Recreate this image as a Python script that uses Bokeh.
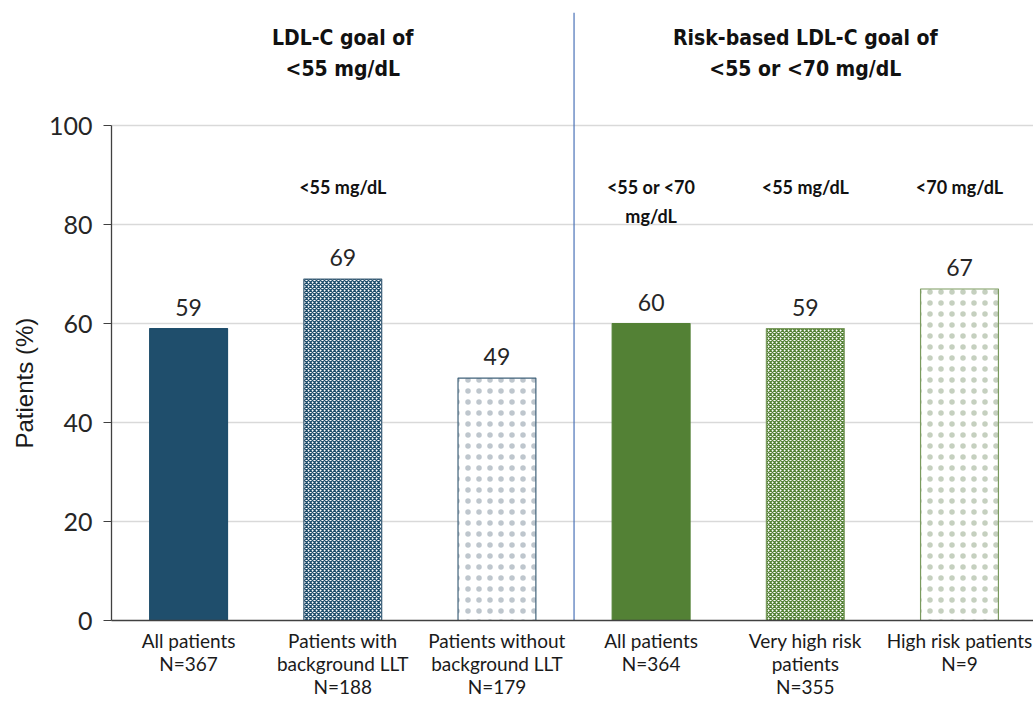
from bokeh.plotting import figure
from bokeh.models import ColumnDataSource, FixedTicker, Range1d, Title
from bokeh.core.properties import value
from bokeh.embed import file_html
from bokeh.resources import INLINE

# Data
group_labels = [
    "All patients\nN=367",
    "Patients with\nbackground LLT\nN=188",
    "Patients without\nbackground LLT\nN=179",
    "All patients\nN=364",
    "Very high risk\npatients\nN=355",
    "High risk patients\nN=9",
]
percent_at_goal = [59, 69, 49, 60, 59, 67]
goal_labels = ["", "<55 mg/dL", "", "<55 or <70\nmg/dL", "<55 mg/dL", "<70 mg/dL"]
panel_titles = ["LDL-C goal of\n<55 mg/dL", "Risk-based LDL-C goal of\n<55 or <70 mg/dL"]
y_ticks = [0, 20, 40, 60, 80, 100]

BLUE = "#1F4E6C"
BLUE_EDGE = "#40627A"
GREEN = "#538135"
GREEN_EDGE = "#7A9A5E"

centers = [i + 0.5 for i in range(len(group_labels))]

p = figure(
    width=1033, height=705,
    x_range=Range1d(0, 5.98), y_range=Range1d(0, 125.3),
    output_backend="svg", toolbar_location=None,
    min_border_left=111, min_border_right=0, min_border_top=0, min_border_bottom=85,
)
p.outline_line_color = None
p.background_fill_color = "white"

# bar styles: solid, crosshatch, dotted for each panel
styles = [
    dict(fill_color=BLUE, line_color=BLUE, hatch_pattern=None),
    dict(fill_color="white", line_color=BLUE_EDGE, hatch_pattern="diagonal_cross", hatch_color=BLUE, hatch_scale=4, hatch_weight=1.3),
    dict(fill_color="white", line_color=BLUE_EDGE, hatch_pattern="dot", hatch_color="#6F8090", hatch_alpha=0.45, hatch_scale=11, hatch_weight=0.3),
    dict(fill_color=GREEN, line_color=GREEN, hatch_pattern=None),
    dict(fill_color="white", line_color=GREEN_EDGE, hatch_pattern="diagonal_cross", hatch_color=GREEN, hatch_scale=4, hatch_weight=1.3),
    dict(fill_color="white", line_color=GREEN_EDGE, hatch_pattern="dot", hatch_color="#7E9670", hatch_alpha=0.45, hatch_scale=11, hatch_weight=0.3),
]
for x, v, st in zip(centers, percent_at_goal, styles):
    st = dict(st)
    hp = st.pop("hatch_pattern")
    kw = dict(x=[x], top=[v], bottom=0, width=0.505, line_width=1.2, **st)
    if hp:
        kw["hatch_pattern"] = hp
    p.vbar(**kw)

# value labels above bars
val_src = ColumnDataSource(dict(x=centers, y=percent_at_goal, t=[str(v) for v in percent_at_goal]))
p.text(x="x", y="y", text="t", source=val_src, text_align="center", text_baseline="bottom",
       y_offset=-13, text_font=value("Lato"), text_font_size="23px", text_color="#262626")

# divider between the two panels
p.segment(x0=[3.0], y0=[0], x1=[3.0], y1=[122.8], line_color="#4A72B8", line_width=1.2)

# panel titles
p.text(x=[centers[1], centers[4]], y=[117.2, 117.2], text=panel_titles, text_align="center",
       text_baseline="middle", text_line_height=1.28, y_offset=13,
       text_font=value("DejaVu Sans Condensed"), text_font_style="bold",
       text_font_size="21px", text_color="#111111")

# goal subheaders
gsrc = ColumnDataSource(dict(x=centers, y=[87.7] * 6, t=goal_labels))
p.text(x="x", y="y", text="t", source=gsrc, text_align="center", text_baseline="top",
       y_offset=-11, text_line_height=1.35, text_font=value("Lato"), text_font_style="bold",
       text_font_size="18px", text_color="#111111")

# y-axis title, placed along the 0-100 span
p.add_layout(Title(text="Patients (%)", align="left", offset=172, standoff=16,
                   text_font="Liberation Sans", text_font_style="normal",
                   text_font_size="24px", text_color="#1a1a1a"), "left")

# axes
p.xgrid.visible = False
p.ygrid.grid_line_color = "#D9D9D9"
p.ygrid.grid_line_width = 1.5
p.yaxis.ticker = FixedTicker(ticks=y_ticks)
p.yaxis.bounds = (0, 100)
p.yaxis.axis_line_color = "#404040"
p.yaxis.axis_line_width = 1.3
p.yaxis.major_tick_out = 8
p.yaxis.major_tick_in = 0
p.yaxis.major_tick_line_color = "#404040"
p.yaxis.minor_tick_line_color = None
p.yaxis.major_label_text_font = "Lato"
p.yaxis.major_label_text_font_size = "25px"
p.yaxis.major_label_text_color = "#262626"
p.yaxis.major_label_standoff = 11

p.xaxis.ticker = FixedTicker(ticks=centers)
p.xaxis.major_label_overrides = {c: lab for c, lab in zip(centers, group_labels)}
p.xaxis.axis_line_color = "#404040"
p.xaxis.axis_line_width = 1.3
p.xaxis.major_tick_line_color = None
p.xaxis.minor_tick_line_color = None
p.xaxis.major_label_text_font = "Lato"
p.xaxis.major_label_text_font_size = "19px"
p.xaxis.major_label_text_line_height = 1.0
p.xaxis.major_label_text_color = "#1a1a1a"
p.xaxis.major_label_standoff = 2

open("out.html", "w").write(file_html(p, INLINE))
